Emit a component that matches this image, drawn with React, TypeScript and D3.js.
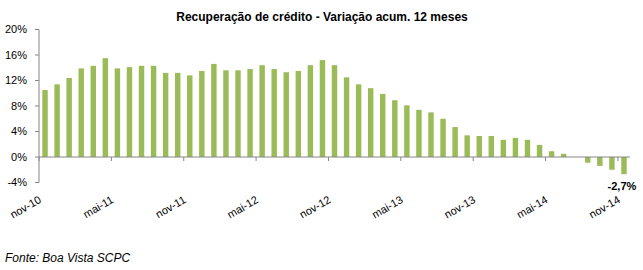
import React from "react";
import * as d3 from "d3";

const months = ["jan","fev","mar","abr","mai","jun","jul","ago","set","out","nov","dez"];
const categories: string[] = [];
for (let i = 0; i < 49; i++) {
  const m = (10 + i) % 12;
  const y = 10 + Math.floor((10 + i) / 12);
  categories.push(`${months[m]}-${y}`);
}
const values = [
  10.5, 11.4, 12.4, 13.9, 14.3, 15.5, 13.9, 14.1, 14.3, 14.3, 13.2, 13.2,
  12.8, 13.5, 14.6, 13.6, 13.6, 13.8, 14.4, 13.8, 13.3, 13.5, 14.4, 15.2,
  14.4, 12.5, 11.4, 10.8, 9.9, 8.9, 8.1, 7.4, 7.0, 6.0, 4.7, 3.4,
  3.3, 3.3, 2.7, 3.0, 2.7, 1.9, 0.9, 0.5, 0, -0.9, -1.4, -2.0, -2.7,
];
const yTicks = [-4, 0, 4, 8, 12, 16, 20];
const title = "Recuperação de crédito - Variação acum. 12 meses";
const source = "Fonte: Boa Vista SCPC";
const lastLabel = "-2,7%";

export default function App() {
  const W = 643, H = 270;
  const left = 39, right = 630, top = 29.5, bottom = 182.5;
  const x = d3.scaleBand<string>().domain(categories).range([left, right]).padding(0);
  const y = d3.scaleLinear().domain([-4, 20]).range([bottom, top]);
  const step = x.step();
  const bw = step * 0.45;
  const y0 = y(0);
  const axisColor = "#868686";
  const font = "'Liberation Sans', Arial, sans-serif";
  const tickIdx = d3.range(0, 49, 6);
  return (
    <svg width={W} height={H} style={{ position: "absolute", left: 0, top: 0, fontFamily: font }}>
      <rect x={0} y={0} width={W} height={H} fill="#fff" />
      <text x={322} y={21} textAnchor="middle" fontWeight="bold" fontSize={12} fill="#000">{title}</text>
      {values.map((v, i) => {
        const cx = (x(categories[i]) as number) + step / 2;
        return (
          <rect key={i} x={cx - bw / 2} width={bw}
            y={Math.min(y(v), y0)} height={Math.abs(y(v) - y0)} fill="#9BBB59" />
        );
      })}
      <line x1={left} x2={left} y1={top} y2={bottom} stroke={axisColor} strokeWidth={1} />
      {yTicks.map((t) => (
        <g key={t}>
          <line x1={left - 4} x2={left} y1={y(t)} y2={y(t)} stroke={axisColor} />
          <text x={left - 12} y={y(t)} dy="0.35em" textAnchor="end" fontSize={11} fill="#000">{t}%</text>
        </g>
      ))}
      <line x1={left} x2={right} y1={y0} y2={y0} stroke={axisColor} strokeWidth={1} />
      {tickIdx.map((i) => (
        <line key={i} x1={x(categories[i])} x2={x(categories[i])} y1={y0} y2={y0 + 4} stroke={axisColor} />
      ))}
      {tickIdx.map((i) => {
        const cx = (x(categories[i]) as number) + step / 2;
        return (
          <text key={"l" + i} transform={`translate(${cx - 3},${202}) rotate(-30)`} textAnchor="end"
            fontSize={11} fill="#000">{categories[i]}</text>
        );
      })}
      <text x={(x(categories[48]) as number) + step / 2 - 2} y={y(values[48]) + 16} textAnchor="middle"
        fontSize={11} fontWeight="bold" fill="#000">{lastLabel}</text>
      <text x={5} y={262} fontSize={12} fontStyle="italic" fill="#000">{source}</text>
    </svg>
  );
}
